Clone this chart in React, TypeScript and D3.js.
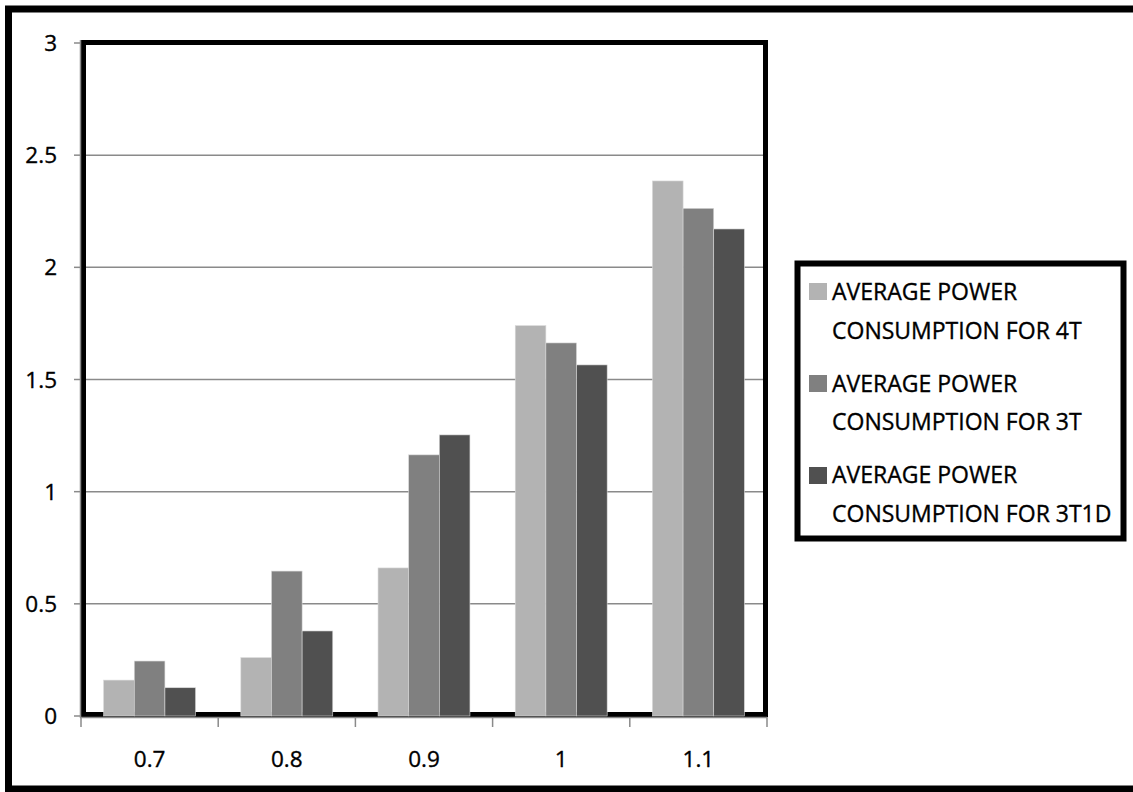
import React from "react";
import * as d3 from "d3";

const categories = ["0.7", "0.8", "0.9", "1", "1.1"];
const seriesNames = [
  "AVERAGE POWER CONSUMPTION FOR 4T",
  "AVERAGE POWER CONSUMPTION FOR 3T",
  "AVERAGE POWER CONSUMPTION FOR 3T1D",
];
const legendLines = [
  ["AVERAGE POWER", "CONSUMPTION FOR 4T"],
  ["AVERAGE POWER", "CONSUMPTION FOR 3T"],
  ["AVERAGE POWER", "CONSUMPTION FOR 3T1D"],
];
const values4T = [0.16, 0.26, 0.66, 1.74, 2.385];
const values3T = [0.245, 0.646, 1.164, 1.663, 2.263];
const values3T1D = [0.126, 0.379, 1.253, 1.565, 2.171];
const yTicks = [0, 0.5, 1, 1.5, 2, 2.5, 3];
const colors = ["#b3b3b3", "#808080", "#505050"];

const allSeries = [values4T, values3T, values3T1D];

export default function App() {
  const W = 1133;
  const H = 792;
  const left = 81;
  const right = 767;
  const top = 43;
  const bottom = 716;
  const font = "'Open Sans', sans-serif";

  const y = d3.scaleLinear().domain([0, 3]).range([bottom, top]);
  const x = d3
    .scaleBand<string>()
    .domain(categories)
    .range([left, right])
    .paddingInner(0.33)
    .paddingOuter(0.165);
  const xs = d3
    .scaleBand<string>()
    .domain(seriesNames)
    .range([0, x.bandwidth()])
    .padding(0);
  const step = x.step();
  const boundaries = d3.range(categories.length + 1).map((i) => left + i * step);

  return (
    <svg
      width={W}
      height={H}
      style={{ position: "absolute", left: 0, top: 0, background: "#fff" }}
      fontFamily={font}
    >
      <rect x={0} y={0} width={W} height={H} fill="#fff" />
      {/* outer border */}
      <rect x={8.5} y={9} width={1150} height={780} fill="none" stroke="#000" strokeWidth={7} />

      {/* gridlines */}
      {yTicks.slice(1).map((t) => (
        <line key={"g" + t} x1={left} x2={right} y1={y(t)} y2={y(t)} stroke="#8a8a8a" strokeWidth={1.5} />
      ))}

      {/* plot frame */}
      <rect x={83.5} y={42.5} width={765.5 - 83.5} height={714.5 - 42.5} fill="none" stroke="#000" strokeWidth={5} />

      {/* bars */}
      {allSeries.map((vals, si) =>
        vals.map((v, ci) => (
          <rect
            key={si + "-" + ci}
            x={(x(categories[ci]) as number) + (xs(seriesNames[si]) as number)}
            y={y(v)}
            width={xs.bandwidth()}
            height={y(0) - y(v)}
            fill={colors[si]}
            stroke="#d8d8d8"
            strokeWidth={0.6}
          />
        ))
      )}

      {/* axes */}
      <line x1={80.5} x2={80.5} y1={40} y2={718} stroke="#8a8a8a" strokeWidth={1.5} />
      <line x1={80} x2={right} y1={717.5} y2={717.5} stroke="#8a8a8a" strokeWidth={1.5} />
      {yTicks.map((t) => (
        <line key={"yt" + t} x1={74} x2={81} y1={y(t)} y2={y(t)} stroke="#8a8a8a" strokeWidth={1.5} />
      ))}
      {boundaries.map((b, i) => (
        <line key={"xt" + i} x1={b} x2={b} y1={717} y2={727} stroke="#8a8a8a" strokeWidth={1.5} />
      ))}

      {/* y labels */}
      {yTicks.map((t) => (
        <text key={"yl" + t} x={57} y={y(t) + 8} textAnchor="end" fontSize={22.5} fill="#000" stroke="#000" strokeWidth={0.35}>
          {String(t)}
        </text>
      ))}
      {/* x labels */}
      {categories.map((c) => (
        <text
          key={"xl" + c}
          x={(x(c) as number) + x.bandwidth() / 2}
          y={767}
          textAnchor="middle"
          fontSize={22.5}
          fill="#000"
          stroke="#000"
          strokeWidth={0.35}
        >
          {c}
        </text>
      ))}

      {/* legend */}
      <rect x={797.5} y={263.5} width={326} height={275} fill="#fff" stroke="#000" strokeWidth={6} />
      {legendLines.map((lines, i) => (
        <g key={"lg" + i}>
          <rect x={809} y={283 + i * 92} width={18} height={17} fill={colors[i]} />
          {lines.map((ln, j) => (
            <text key={j} x={832} y={300 + i * 91.5 + j * 38.5} fontSize={23} fill="#000" stroke="#000" strokeWidth={0.35}>
              {ln}
            </text>
          ))}
        </g>
      ))}
    </svg>
  );
}
